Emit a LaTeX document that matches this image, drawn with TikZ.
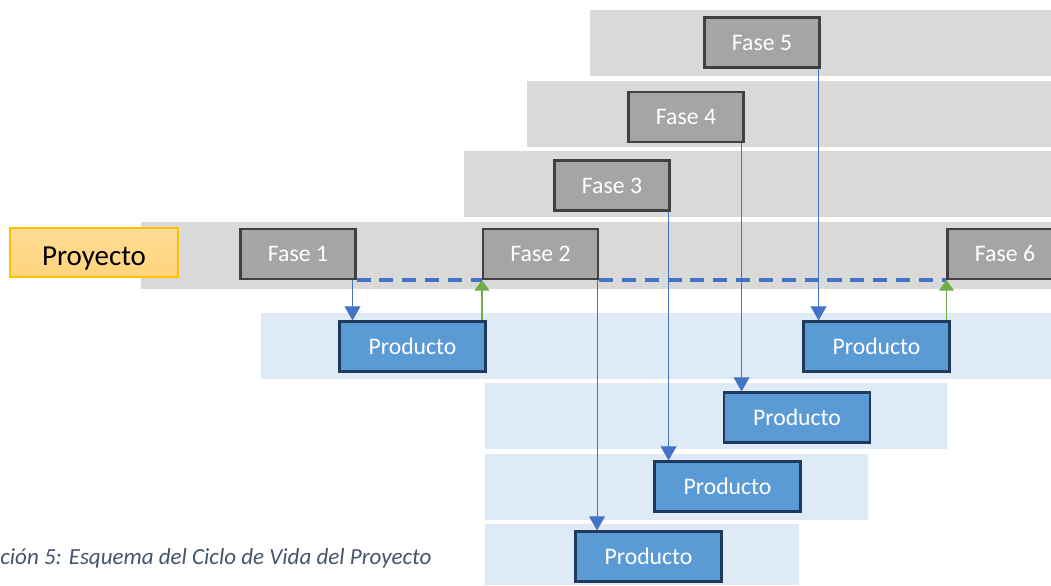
\documentclass[tikz,border=0pt]{standalone}
\usepackage{fontspec}
\setmainfont{Carlito}
\usetikzlibrary{arrows.meta,calc}
\definecolor{bandgray}{HTML}{D9D9D9}
\definecolor{bandblue}{HTML}{DEEAF6}
\definecolor{fasefill}{HTML}{A5A5A5}
\definecolor{faseline}{HTML}{404040}
\definecolor{prodfill}{HTML}{5B9BD5}
\definecolor{prodline}{HTML}{1F3A5C}
\definecolor{flowblue}{HTML}{4472C4}
\definecolor{backgreen}{HTML}{70AD47}
\definecolor{proyline}{HTML}{FFC000}
\definecolor{proytop}{HTML}{FFDB94}
\definecolor{proybot}{HTML}{FFD47C}
\definecolor{captioncol}{HTML}{44546A}
\tikzset{
  fase/.style={draw=faseline,fill=fasefill,line width=1.2pt,
    minimum width=2.3cm,minimum height=1cm,inner sep=0pt,
    text=white,font=\fontsize{13.5}{16}\selectfont},
  prod/.style={draw=prodline,fill=prodfill,line width=1.2pt,
    minimum width=2.92cm,minimum height=1cm,inner sep=0pt,
    text=white,font=\fontsize{13.5}{16}\selectfont},
  flow/.style={-{Triangle[length=8pt,width=9pt]},draw=flowblue,line width=.6pt},
  back/.style={-{Triangle[length=6pt,width=8.5pt]},draw=backgreen,line width=.8pt},
  link/.style={draw=flowblue,line width=1.8pt,dash pattern=on 8pt off 5pt}
}
\begin{document}
\begin{tikzpicture}[x=0.02cm,y=-0.02cm]
\clip (0,0) rectangle (1051,585);
% bandas de fases
\fill[bandgray] (590,10) rectangle (1051,76);
\fill[bandgray] (527,81) rectangle (1051,147);
\fill[bandgray] (464,151) rectangle (1051,217);
\fill[bandgray] (141,222) rectangle (1051,289);
% bandas de productos
\fill[bandblue] (261,313) rectangle (1051,379);
\fill[bandblue] (485,383) rectangle (947,449);
\fill[bandblue] (485,454) rectangle (868,520);
\fill[bandblue] (485,524) rectangle (799,585);

\node (proy) [draw=proyline,line width=.8pt,top color=proytop,bottom color=proybot,
  minimum width=3.36cm,minimum height=.98cm,
  font=\fontsize{16.5}{19}\selectfont] at (94,252.5) {\raisebox{-7.5pt}[0pt][0pt]{Proyecto}};

\node (f1) [fase] at (298,254) {Fase 1};
\node (f2) [fase] at (540.5,254) {Fase 2};
\node (f3) [fase] at (612,185.5) {Fase 3};
\node (f4) [fase] at (686,117) {Fase 4};
\node (f5) [fase] at (762,42.5) {Fase 5};
\node (f6) [fase] at (1005,254) {Fase 6};

\node (p1) [prod] at (412.5,346.5) {Producto};
\node (p5) [prod] at (876.5,346.5) {Producto};
\node (p4) [prod] at (797,417.5) {Producto};
\node (p3) [prod] at (727.5,486.5) {Producto};
\node (p2) [prod] at (648.5,556.5) {Producto};

\draw[link] (f1.south east) -- (f2.south west);
\draw[link] (f2.south east) -- (f6.south west);

\foreach \f/\p/\dx in {f1/p1/4,f2/p2/2,f3/p3/2,f4/p4/3,f5/p5/2} {
  \path (\f.south east) ++(-\dx,0) coordinate (s);
  \draw[flow] (s) -- (s |- \p.north);
}
\draw[back] (f2.south west |- p1.north) -- (f2.south west);
\draw[back] (f6.south west |- p5.north) -- (f6.south west);

\node (cap) [anchor=base west,text=captioncol,font=\fontsize{13.1}{15}\selectfont\itshape,
  inner sep=0pt] at (0,564) {ción 5: Esquema del Ciclo de Vida del Proyecto};
\end{tikzpicture}
\end{document}
